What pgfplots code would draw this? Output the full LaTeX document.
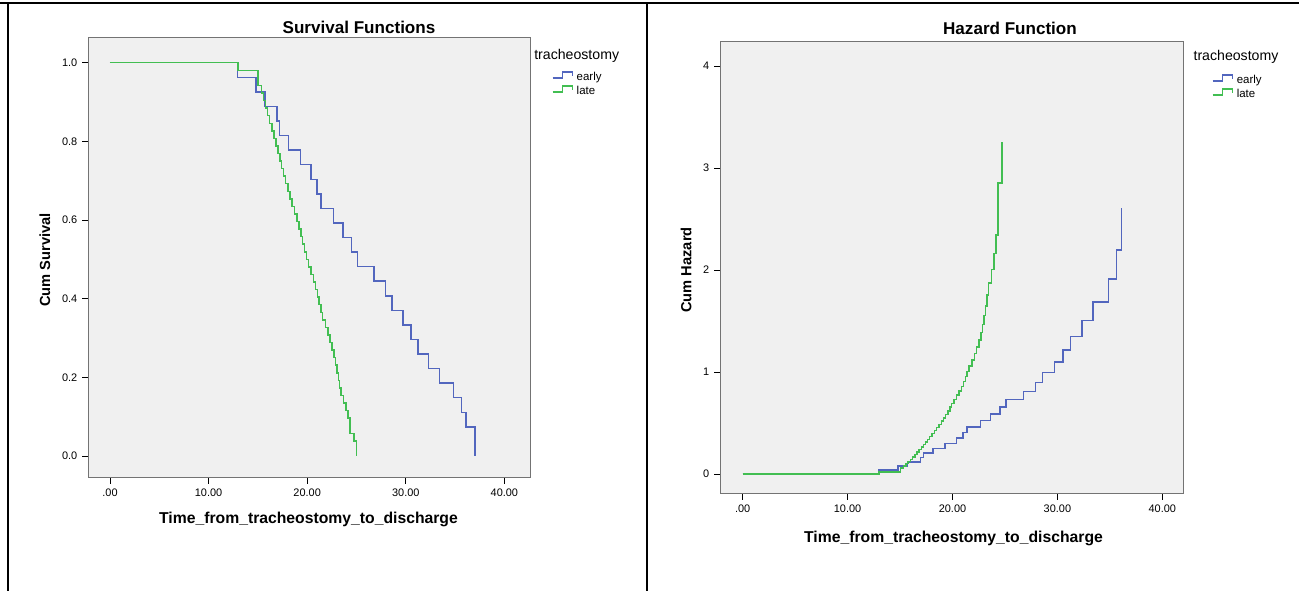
\documentclass[border=0pt]{standalone}
\usepackage{fontspec}
\setmainfont{Liberation Sans}
\usepackage{pgfplots}
\pgfplotsset{compat=1.18}

\definecolor{early}{RGB}{82,102,190}
\definecolor{late}{RGB}{66,190,82}
\definecolor{plotbg}{RGB}{240,240,240}
\definecolor{boxline}{RGB}{115,115,115}

\pgfplotsset{
  km/.style={
    scale only axis,
    anchor=south west,
    axis background/.style={fill=plotbg},
    axis line style={boxline, line width=0.75pt},
    tick align=outside, xtick pos=lower, ytick pos=left,
    major tick length=4.5pt,
    tick style={black, line width=0.6pt},
    xtick={0,10,20,30,40},
    xticklabels={.00,10.00,20.00,30.00,40.00},
    ticklabel style={font=\fontsize{8.2}{9}\selectfont},
    legend cell align=left,
    legend image code/.code={
      \draw[##1] (0pt,0pt) -- (7.5pt,0pt) -- (7.5pt,4.5pt) -- (15pt,4.5pt) -- (15pt,1.5pt);
    },
    legend style={draw=none, fill=none, inner sep=0pt, row sep=0pt,
      font=\fontsize{8.6}{10}\selectfont,
      nodes={inner sep=0pt, text height=7pt, text depth=3.5pt},
      /tikz/every odd column/.append style={column sep=2.5pt}},
  },
  kmline/.style={const plot mark left, no marks, line width=1.1pt},
}

\begin{document}
\begin{tikzpicture}[x=0.75pt,y=0.75pt]
\path[use as bounding box] (0,0) rectangle (1299,591);

% table frame of the page
\draw[line width=1.5pt] (0,588) -- (1299,588);
\draw[line width=1.5pt] (8,588) -- (8,0);
\draw[line width=1.5pt] (647,588) -- (647,0);

% survival
\begin{axis}[km, at={(66pt,84.75pt)},
  width=331.5pt, height=330pt,
  xmin=-2.23, xmax=42.6, ymin=-0.056, ymax=1.063,
  ytick={0,0.2,0.4,0.6,0.8,1},
  yticklabels={0.0,0.2,0.4,0.6,0.8,1.0},
  legend style={at={(1.049,0.9257)}, anchor=north west}]
\addplot[kmline, early] coordinates {
  (0,1) (12.95,0.9630) (14.81,0.9259) (15.72,0.8889) (16.94,0.8519)
  (17.21,0.8148) (18.12,0.7778) (19.30,0.7407) (20.39,0.7037) (20.99,0.6667)
  (21.40,0.6296) (22.69,0.5926) (23.63,0.5556) (24.51,0.5185) (25.10,0.4815)
  (26.77,0.4444) (27.92,0.4074) (28.60,0.3704) (29.72,0.3333) (30.53,0.2963)
  (31.24,0.2593) (32.32,0.2222) (33.40,0.1852) (34.86,0.1481) (35.63,0.1111)
  (36.11,0.0741) (37.02,0)
};
\addlegendentry{early}
\addplot[kmline, late] coordinates {
  (0,1) (13.00,0.9808) (15.02,0.9423) (15.35,0.9231) (15.55,0.9038)
  (15.75,0.8846) (16.00,0.8654) (16.20,0.8462) (16.42,0.8269) (16.62,0.8077)
  (16.82,0.7885) (17.02,0.7692) (17.22,0.7500) (17.42,0.7308) (17.62,0.7115)
  (17.82,0.6923) (18.05,0.6731) (18.28,0.6538) (18.48,0.6346) (18.70,0.6154)
  (18.95,0.5962) (19.15,0.5769) (19.35,0.5577) (19.55,0.5385) (19.75,0.5192)
  (19.92,0.5000) (20.12,0.4808) (20.38,0.4615) (20.62,0.4423) (20.85,0.4231)
  (21.05,0.4038) (21.22,0.3846) (21.38,0.3654) (21.58,0.3462) (21.85,0.3269)
  (22.10,0.3077) (22.30,0.2885) (22.52,0.2692) (22.70,0.2500) (22.88,0.2308)
  (23.02,0.2115) (23.15,0.1923) (23.30,0.1731) (23.45,0.1538) (23.70,0.1346)
  (23.95,0.1154) (24.15,0.0962) (24.32,0.0577) (24.73,0.0385) (25.00,0)
};
\addlegendentry{late}
\end{axis}

% hazard
\begin{axis}[km, at={(540pt,72.75pt)},
  width=347.25pt, height=339pt,
  xmin=-2.16, xmax=41.97, ymin=-0.196, ymax=4.235,
  ytick={0,1,2,3,4},
  yticklabels={0,1,2,3,4},
  legend style={at={(1.062,0.930)}, anchor=north west}]
\addplot[kmline, early] coordinates {
  (0,0) (12.95,0.0377) (14.81,0.0770) (15.72,0.1178) (16.94,0.1603)
  (17.21,0.2048) (18.12,0.2513) (19.30,0.3001) (20.39,0.3514) (20.99,0.4055)
  (21.40,0.4626) (22.69,0.5232) (23.63,0.5878) (24.51,0.6568) (25.10,0.7309)
  (26.77,0.8109) (27.92,0.8979) (28.60,0.9933) (29.72,1.0986) (30.53,1.2164)
  (31.24,1.3499) (32.32,1.5041) (33.40,1.6864) (34.86,1.9095) (35.63,2.1972)
  (36.11,2.6027)
};
\addlegendentry{early}
\addplot[kmline, late] coordinates {
  (0,0) (13.00,0.0194) (15.02,0.0594) (15.35,0.0800) (15.55,0.1011)
  (15.75,0.1226) (16.00,0.1445) (16.20,0.1670) (16.42,0.1900) (16.62,0.2135)
  (16.82,0.2376) (17.02,0.2624) (17.22,0.2877) (17.42,0.3137) (17.62,0.3403)
  (17.82,0.3677) (18.05,0.3959) (18.28,0.4249) (18.48,0.4547) (18.70,0.4855)
  (18.95,0.5173) (19.15,0.5500) (19.35,0.5839) (19.55,0.6190) (19.75,0.6554)
  (19.92,0.6931) (20.12,0.7324) (20.38,0.7732) (20.62,0.8157) (20.85,0.8602)
  (21.05,0.9067) (21.22,0.9555) (21.38,1.0068) (21.58,1.0609) (21.85,1.1180)
  (22.10,1.1787) (22.30,1.2432) (22.52,1.3122) (22.70,1.3863) (22.88,1.4663)
  (23.02,1.5533) (23.15,1.6487) (23.30,1.7540) (23.45,1.8718) (23.70,2.0053)
  (23.95,2.1595) (24.15,2.3418) (24.32,2.8526) (24.73,3.2581)
};
\addlegendentry{late}
\end{axis}

% titles and labels
\node[font=\bfseries\fontsize{12.8}{14}\selectfont] at (359,564) {Survival Functions};
\node[font=\bfseries\fontsize{11.8}{13}\selectfont] at (308.5,72) {Time\_from\_tracheostomy\_to\_discharge};
\node[rotate=90, font=\bfseries\fontsize{11}{13}\selectfont] at (45,331) {Cum Survival};
\node[anchor=west, inner sep=0pt, font=\fontsize{10.6}{12}\selectfont] at (534,535.3) {tracheostomy};

\node[font=\bfseries\fontsize{12.8}{14}\selectfont] at (1010,563) {Hazard Function};
\node[font=\bfseries\fontsize{11.8}{13}\selectfont] at (953.5,53) {Time\_from\_tracheostomy\_to\_discharge};
\node[rotate=90, font=\bfseries\fontsize{11}{13}\selectfont] at (686,321) {Cum Hazard};
\node[anchor=west, inner sep=0pt, font=\fontsize{10.6}{12}\selectfont] at (1193.3,534.3) {tracheostomy};
\end{tikzpicture}
\end{document}
